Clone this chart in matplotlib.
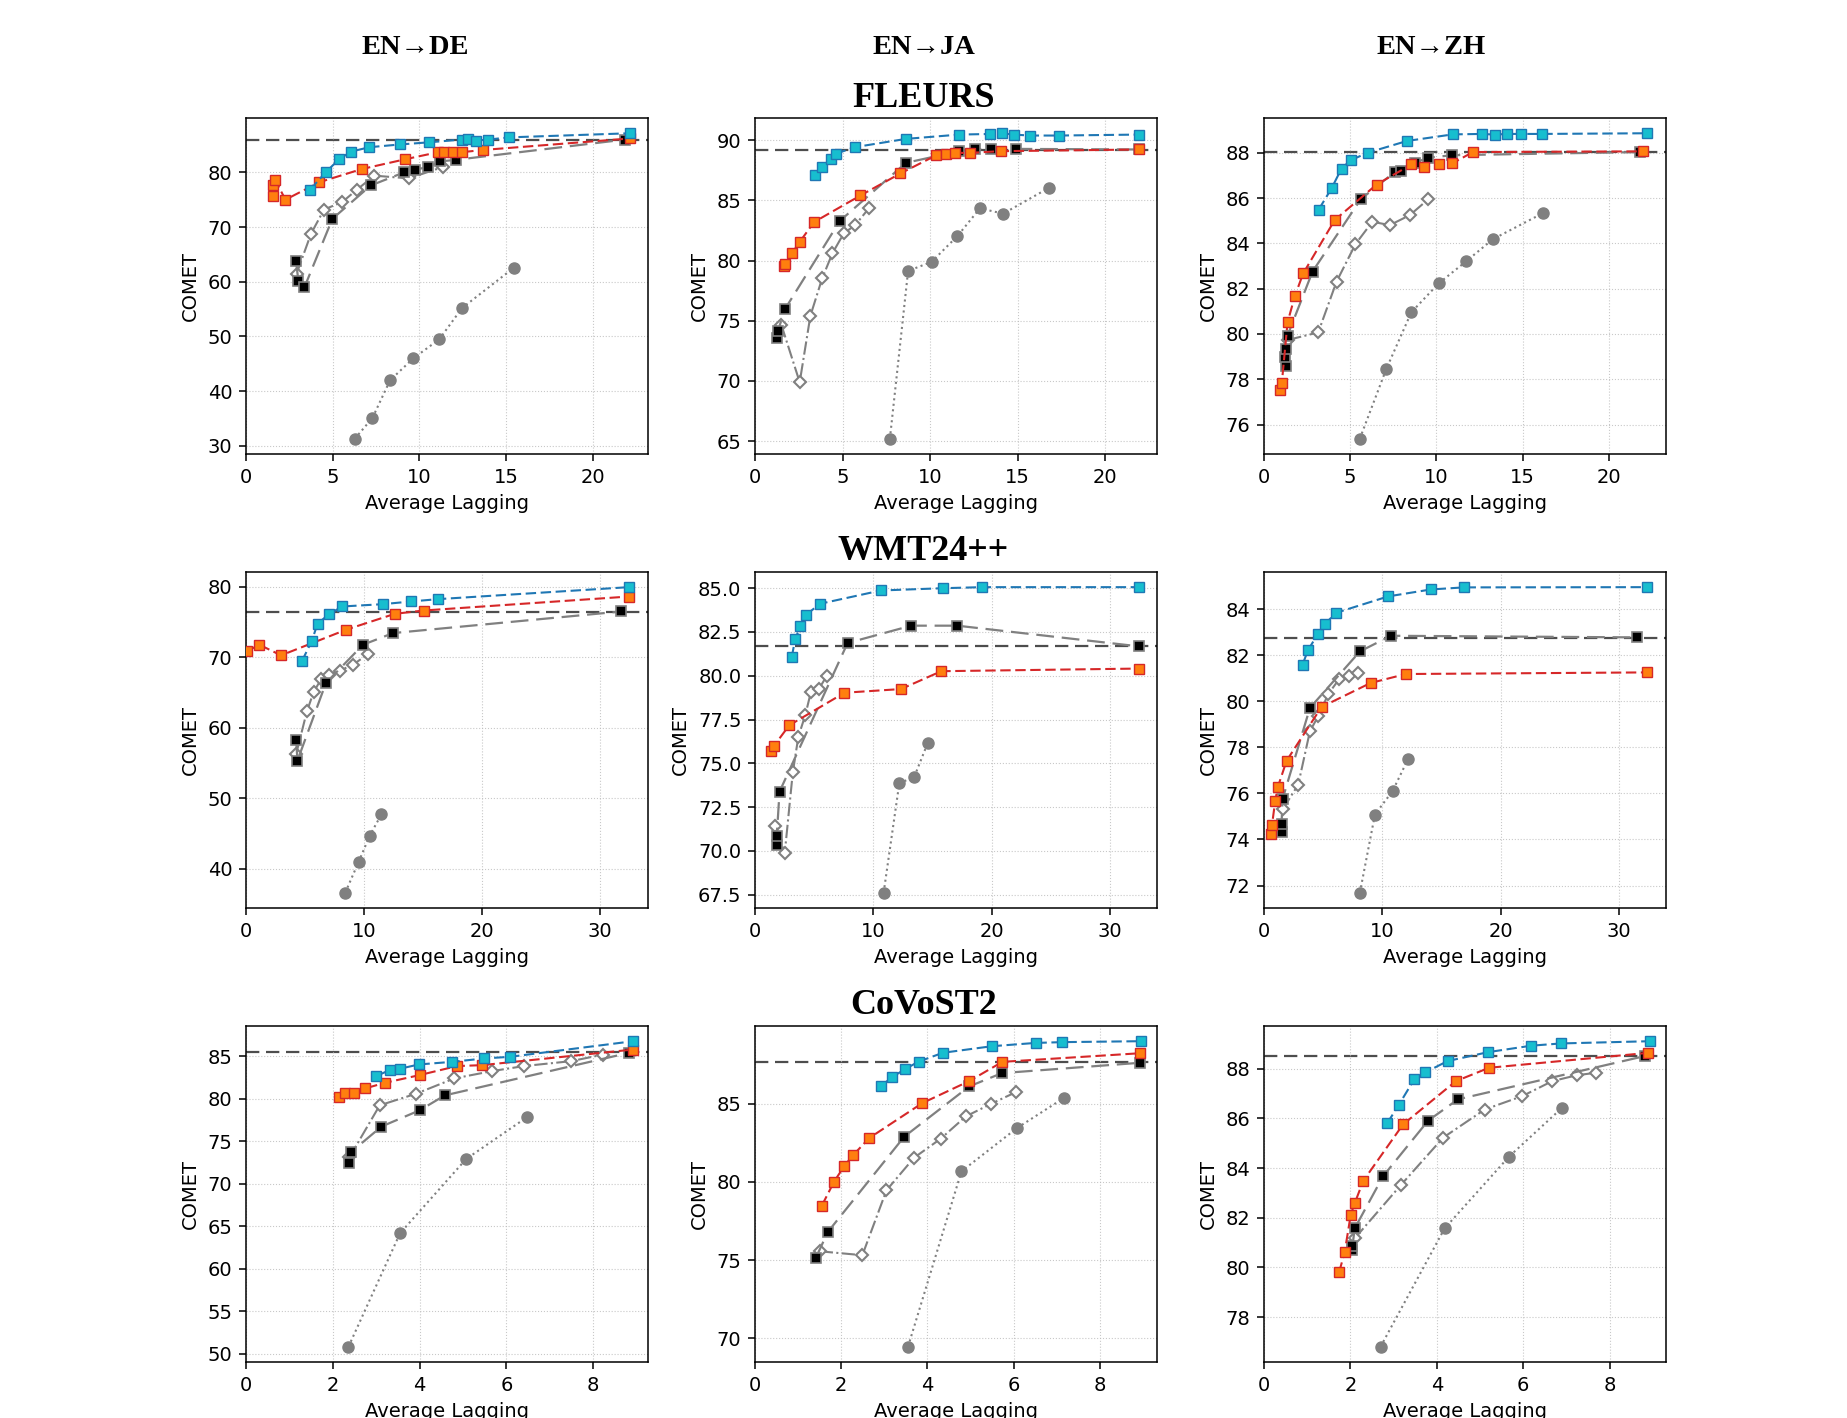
import matplotlib
matplotlib.use("Agg")
import matplotlib.pyplot as plt
from matplotlib.ticker import MultipleLocator

# column / row headings
pairs = ["EN\u2192DE", "EN\u2192JA", "EN\u2192ZH"]
datasets = ["FLEURS", "WMT24++", "CoVoST2"]

# ---------------- FLEURS ----------------
fl_de_blue_x = [3.69, 4.62, 5.37, 6.06, 7.12, 8.88, 10.58, 12.44, 12.83, 13.27, 13.98, 15.19, 22.15]
fl_de_blue_y = [76.8, 80.1, 82.4, 83.8, 84.6, 85.1, 85.5, 86.0, 86.1, 85.8, 86.0, 86.4, 87.15]
fl_de_red_x = [1.54, 1.54, 1.69, 2.27, 4.23, 6.67, 9.19, 11.10, 11.44, 11.92, 12.48, 13.69, 22.15]
fl_de_red_y = [75.6, 77.6, 78.6, 75.0, 78.2, 80.6, 82.4, 83.7, 83.8, 83.7, 83.7, 84.1, 86.2]
fl_de_black_x = [2.88, 3.02, 3.37, 4.98, 7.19, 9.12, 9.77, 10.52, 11.19, 12.12, 21.87]
fl_de_black_y = [63.8, 60.2, 59.0, 71.5, 77.6, 80.0, 80.5, 81.0, 82.0, 82.3, 86.0]
fl_de_dia_x = [2.92, 3.75, 4.50, 5.56, 6.38, 7.40, 9.38, 11.38]
fl_de_dia_y = [61.5, 68.8, 73.2, 74.6, 76.8, 79.4, 78.9, 81.0]
fl_de_circ_x = [6.27, 7.29, 8.31, 9.65, 11.15, 12.46, 15.46]
fl_de_circ_y = [31.3, 35.1, 42.0, 46.0, 49.5, 55.2, 62.6]
fl_de_ref = 85.85

fl_ja_blue_x = [3.43, 3.81, 4.36, 4.61, 5.68, 8.61, 11.66, 13.41, 14.08, 14.76, 15.70, 17.33, 21.92]
fl_ja_blue_y = [87.07, 87.79, 88.48, 88.87, 89.42, 90.11, 90.47, 90.52, 90.58, 90.47, 90.39, 90.39, 90.47]
fl_ja_red_x = [1.66, 1.71, 2.11, 2.55, 3.37, 6.02, 8.30, 10.36, 10.93, 11.41, 12.27, 14.02, 21.92]
fl_ja_red_y = [79.56, 79.70, 80.61, 81.55, 83.20, 85.41, 87.24, 88.76, 88.87, 88.95, 88.95, 89.09, 89.23]
fl_ja_black_x = [1.28, 1.31, 1.71, 4.84, 8.61, 11.66, 12.55, 13.50, 14.93, 21.92]
fl_ja_black_y = [73.54, 74.17, 75.97, 83.29, 88.12, 89.09, 89.28, 89.23, 89.28, 89.23]
fl_ja_dia_x = [1.50, 2.55, 3.16, 3.83, 4.42, 5.07, 5.71, 6.51]
fl_ja_dia_y = [74.67, 69.89, 75.41, 78.51, 80.61, 82.27, 82.93, 84.36]
fl_ja_circ_x = [7.70, 8.74, 10.08, 11.56, 12.84, 14.17, 16.76]
fl_ja_circ_y = [65.19, 79.14, 79.89, 82.04, 84.34, 83.90, 86.02]
fl_ja_ref = 89.17

fl_zh_blue_x = [3.17, 3.92, 4.50, 5.04, 6.02, 8.30, 10.95, 12.66, 13.38, 14.09, 14.90, 16.10, 22.24]
fl_zh_blue_y = [85.49, 86.43, 87.31, 87.68, 88.01, 88.53, 88.82, 88.84, 88.81, 88.84, 88.84, 88.84, 88.87]
fl_zh_red_x = [0.95, 1.04, 1.37, 1.80, 2.28, 4.11, 6.53, 8.55, 9.27, 10.15, 10.93, 12.12, 21.97]
fl_zh_red_y = [77.53, 77.84, 80.51, 81.69, 82.68, 85.04, 86.60, 87.49, 87.38, 87.53, 87.54, 88.04, 88.07]
fl_zh_black_x = [1.27, 1.25, 1.31, 1.37, 2.82, 5.62, 7.59, 7.93, 8.78, 9.52, 10.93, 21.78]
fl_zh_black_y = [78.57, 78.97, 79.34, 79.93, 82.76, 85.96, 87.16, 87.21, 87.57, 87.79, 87.90, 88.04]
fl_zh_dia_x = [1.41, 3.15, 4.21, 5.31, 6.29, 7.30, 8.46, 9.54]
fl_zh_dia_y = [79.74, 80.07, 82.31, 83.97, 84.96, 84.81, 85.25, 85.96]
fl_zh_circ_x = [5.56, 7.10, 8.55, 10.14, 11.74, 13.28, 16.18]
fl_zh_circ_y = [75.37, 78.46, 80.96, 82.24, 83.22, 84.19, 85.34]
fl_zh_ref = 88.06

# ---------------- WMT24++ ----------------
wmt_de_blue_x = [4.73, 5.58, 6.06, 7.03, 8.16, 11.61, 13.99, 16.26, 32.44]
wmt_de_blue_y = [69.39, 72.31, 74.72, 76.08, 77.17, 77.50, 77.88, 78.21, 79.91]
wmt_de_red_x = [0.06, 1.13, 2.97, 8.47, 12.61, 15.07, 32.44]
wmt_de_red_y = [70.80, 71.75, 70.24, 73.87, 76.13, 76.60, 78.58]
wmt_de_black_x = [4.25, 4.36, 6.77, 9.92, 12.46, 31.78]
wmt_de_black_y = [58.21, 55.33, 66.32, 71.75, 73.40, 76.46]
wmt_de_dia_x = [4.25, 5.16, 5.72, 6.37, 7.05, 7.93, 9.07, 10.34]
wmt_de_dia_y = [56.27, 62.31, 65.00, 66.89, 67.50, 68.07, 68.92, 70.42]
wmt_de_circ_x = [8.41, 9.55, 10.48, 11.47]
wmt_de_circ_y = [36.60, 40.99, 44.67, 47.69]
wmt_de_ref = 76.42

wmt_ja_blue_x = [3.10, 3.40, 3.84, 4.31, 5.49, 10.63, 15.88, 19.19, 32.42]
wmt_ja_blue_y = [81.06, 82.12, 82.82, 83.48, 84.11, 84.87, 85.00, 85.06, 85.06]
wmt_ja_red_x = [1.39, 1.56, 2.89, 7.56, 12.34, 15.74, 32.42]
wmt_ja_red_y = [75.71, 75.96, 77.17, 79.03, 79.24, 80.26, 80.41]
wmt_ja_black_x = [1.83, 1.83, 2.07, 7.82, 13.20, 17.09, 32.42]
wmt_ja_black_y = [70.31, 70.82, 73.38, 81.87, 82.86, 82.86, 81.68]
wmt_ja_dia_x = [1.71, 2.51, 3.19, 3.66, 4.25, 4.72, 5.37, 6.08]
wmt_ja_dia_y = [71.44, 69.87, 74.48, 76.52, 77.76, 79.07, 79.22, 80.01]
wmt_ja_circ_x = [10.87, 12.19, 13.46, 14.59]
wmt_ja_circ_y = [67.61, 73.85, 74.23, 76.15]
wmt_ja_ref = 81.68

wmt_zh_blue_x = [3.27, 3.72, 4.56, 5.18, 6.06, 10.51, 14.11, 16.90, 32.37]
wmt_zh_blue_y = [81.59, 82.21, 82.92, 83.35, 83.83, 84.55, 84.85, 84.94, 84.95]
wmt_zh_red_x = [0.62, 0.68, 0.96, 1.18, 1.92, 4.87, 9.01, 12.00, 32.34]
wmt_zh_red_y = [74.25, 74.61, 75.69, 76.28, 77.42, 79.75, 80.79, 81.18, 81.25]
wmt_zh_black_x = [1.52, 1.49, 1.58, 3.89, 8.11, 10.73, 31.55]
wmt_zh_black_y = [74.32, 74.68, 75.76, 79.71, 82.16, 82.84, 82.77]
wmt_zh_dia_x = [1.58, 2.90, 3.89, 4.59, 5.44, 6.37, 7.18, 7.97]
wmt_zh_dia_y = [75.30, 76.38, 78.70, 79.35, 80.31, 80.97, 81.08, 81.23]
wmt_zh_circ_x = [8.11, 9.38, 10.87, 12.20]
wmt_zh_circ_y = [71.69, 75.08, 76.10, 77.51]
wmt_zh_ref = 82.73

# ---------------- CoVoST2 ----------------
cv_de_blue_x = [3.00, 3.31, 3.54, 3.98, 4.75, 5.49, 6.08, 8.92]
cv_de_blue_y = [82.69, 83.40, 83.55, 84.06, 84.37, 84.77, 84.96, 86.80]
cv_de_red_x = [2.15, 2.27, 2.48, 2.75, 3.21, 4.00, 4.86, 5.44, 8.92]
cv_de_red_y = [80.23, 80.66, 80.66, 81.25, 81.91, 82.81, 83.87, 83.98, 85.82]
cv_de_black_x = [2.38, 2.41, 3.12, 4.00, 4.58, 8.82]
cv_de_black_y = [72.41, 73.70, 76.75, 78.66, 80.42, 85.43]
cv_de_dia_x = [2.38, 3.08, 3.92, 4.80, 5.67, 6.40, 7.49, 8.23]
cv_de_dia_y = [73.11, 79.25, 80.62, 82.42, 83.28, 83.87, 84.45, 85.23]
cv_de_circ_x = [2.36, 3.55, 5.07, 6.48]
cv_de_circ_y = [50.82, 64.19, 72.92, 77.88]
cv_de_ref = 85.55

cv_ja_blue_x = [2.92, 3.18, 3.49, 3.80, 4.36, 5.50, 6.51, 7.13, 8.95]
cv_ja_blue_y = [86.13, 86.70, 87.23, 87.70, 88.26, 88.68, 88.89, 88.94, 89.00]
cv_ja_red_x = [1.55, 1.83, 2.07, 2.27, 2.65, 3.88, 4.97, 5.74, 8.93]
cv_ja_red_y = [78.49, 80.00, 81.02, 81.70, 82.81, 85.04, 86.45, 87.68, 88.23]
cv_ja_black_x = [1.41, 1.69, 3.46, 4.97, 5.73, 8.93]
cv_ja_black_y = [75.15, 76.81, 82.89, 86.11, 86.96, 87.62]
cv_ja_dia_x = [1.50, 2.49, 3.05, 3.69, 4.31, 4.89, 5.48, 6.05]
cv_ja_dia_y = [75.57, 75.32, 79.47, 81.55, 82.77, 84.19, 85.00, 85.74]
cv_ja_circ_x = [3.55, 4.79, 6.08, 7.16]
cv_ja_circ_y = [69.47, 80.68, 83.45, 85.36]
cv_ja_ref = 87.66

cv_zh_blue_x = [2.85, 3.12, 3.48, 3.73, 4.25, 5.19, 6.19, 6.88, 8.94]
cv_zh_blue_y = [85.80, 86.54, 87.58, 87.85, 88.31, 88.67, 88.93, 89.02, 89.11]
cv_zh_red_x = [1.74, 1.87, 2.01, 2.10, 2.30, 3.22, 4.44, 5.21, 8.89]
cv_zh_red_y = [79.80, 80.63, 82.13, 82.58, 83.49, 85.76, 87.50, 88.04, 88.64]
cv_zh_black_x = [2.04, 2.05, 2.10, 2.76, 3.80, 4.49, 8.81]
cv_zh_black_y = [80.70, 80.86, 81.57, 83.68, 85.91, 86.77, 88.51]
cv_zh_dia_x = [2.10, 3.17, 4.15, 5.11, 5.98, 6.67, 7.24, 7.69]
cv_zh_dia_y = [81.17, 83.32, 85.23, 86.36, 86.90, 87.50, 87.74, 87.84]
cv_zh_circ_x = [2.70, 4.18, 5.67, 6.90]
cv_zh_circ_y = [76.81, 81.57, 84.46, 86.43]
cv_zh_ref = 88.52

# tick steps per panel (x step, y step)
x_steps = [[5, 5, 5], [10, 10, 10], [2, 2, 2]]
y_steps = [[10, 5, 2], [10, 2.5, 2], [5, 5, 2]]

# one row per dataset, one entry per language pair
panels = [
    [(fl_de_circ_x, fl_de_circ_y, fl_de_dia_x, fl_de_dia_y, fl_de_black_x, fl_de_black_y,
      fl_de_red_x, fl_de_red_y, fl_de_blue_x, fl_de_blue_y, fl_de_ref),
     (fl_ja_circ_x, fl_ja_circ_y, fl_ja_dia_x, fl_ja_dia_y, fl_ja_black_x, fl_ja_black_y,
      fl_ja_red_x, fl_ja_red_y, fl_ja_blue_x, fl_ja_blue_y, fl_ja_ref),
     (fl_zh_circ_x, fl_zh_circ_y, fl_zh_dia_x, fl_zh_dia_y, fl_zh_black_x, fl_zh_black_y,
      fl_zh_red_x, fl_zh_red_y, fl_zh_blue_x, fl_zh_blue_y, fl_zh_ref)],
    [(wmt_de_circ_x, wmt_de_circ_y, wmt_de_dia_x, wmt_de_dia_y, wmt_de_black_x, wmt_de_black_y,
      wmt_de_red_x, wmt_de_red_y, wmt_de_blue_x, wmt_de_blue_y, wmt_de_ref),
     (wmt_ja_circ_x, wmt_ja_circ_y, wmt_ja_dia_x, wmt_ja_dia_y, wmt_ja_black_x, wmt_ja_black_y,
      wmt_ja_red_x, wmt_ja_red_y, wmt_ja_blue_x, wmt_ja_blue_y, wmt_ja_ref),
     (wmt_zh_circ_x, wmt_zh_circ_y, wmt_zh_dia_x, wmt_zh_dia_y, wmt_zh_black_x, wmt_zh_black_y,
      wmt_zh_red_x, wmt_zh_red_y, wmt_zh_blue_x, wmt_zh_blue_y, wmt_zh_ref)],
    [(cv_de_circ_x, cv_de_circ_y, cv_de_dia_x, cv_de_dia_y, cv_de_black_x, cv_de_black_y,
      cv_de_red_x, cv_de_red_y, cv_de_blue_x, cv_de_blue_y, cv_de_ref),
     (cv_ja_circ_x, cv_ja_circ_y, cv_ja_dia_x, cv_ja_dia_y, cv_ja_black_x, cv_ja_black_y,
      cv_ja_red_x, cv_ja_red_y, cv_ja_blue_x, cv_ja_blue_y, cv_ja_ref),
     (cv_zh_circ_x, cv_zh_circ_y, cv_zh_dia_x, cv_zh_dia_y, cv_zh_black_x, cv_zh_black_y,
      cv_zh_red_x, cv_zh_red_y, cv_zh_blue_x, cv_zh_blue_y, cv_zh_ref)],
]

# the original looks like default style scaled up ~1.4x
plt.rcParams['font.size'] = 14
plt.rcParams['xtick.major.size'] = 4.9
plt.rcParams['ytick.major.size'] = 4.9
plt.rcParams['xtick.major.pad'] = 4.9
plt.rcParams['ytick.major.pad'] = 4.9
plt.rcParams['xtick.major.width'] = 1.1
plt.rcParams['ytick.major.width'] = 1.1
plt.rcParams['axes.linewidth'] = 1.1
plt.rcParams['axes.labelpad'] = 5.6
serif = ['Liberation Serif', 'DejaVu Serif']

fig = plt.figure(figsize=(18.47, 14.18), dpi=100)

lefts = [0.1332, 0.4088, 0.6843]
bottoms = [0.6798, 0.3597, 0.0395]
w, h = 0.2176, 0.237

dash = (0, (5, 2.2))
longdash = (0, (8, 3.5))

for r in range(3):
    for c in range(3):
        ax = fig.add_axes([lefts[c], bottoms[r], w, h])
        cx, cy, dx, dy, kx, ky, rx, ry, bx, by, ref = panels[r][c]
        ax.axhline(ref, color='#4d4d4d', lw=1.6, ls=(0, (6, 3)), zorder=1)
        ax.plot(cx, cy, ls=':', color='#808080', lw=1.5, marker='o', ms=8, zorder=2)
        ax.plot(dx, dy, ls='-.', color='#808080', lw=1.5, marker='D', ms=6,
                mfc='white', mec='#808080', mew=1.5, zorder=3)
        ax.plot(kx, ky, ls=longdash, color='#808080', lw=1.6, marker='s', ms=6.5,
                mfc='black', mec='#808080', mew=1.2, zorder=4)
        ax.plot(rx, ry, ls=dash, color='#d62728', lw=1.5, marker='s', ms=6.5,
                mfc='#ff7f0e', mec='#d62728', mew=1.0, zorder=5)
        ax.plot(bx, by, ls=dash, color='#1f77b4', lw=1.5, marker='s', ms=6.5,
                mfc='#17becf', mec='#1f77b4', mew=1.0, zorder=6)
        ax.set_xlim(left=0)
        ax.xaxis.set_major_locator(MultipleLocator(x_steps[r][c]))
        ax.yaxis.set_major_locator(MultipleLocator(y_steps[r][c]))
        ax.grid(True, ls=':', lw=0.8, color='#bbbbbb', alpha=0.8)
        ax.set_xlabel('Average Lagging')
        ax.set_ylabel('COMET')

for t, xpos in zip(pairs, [0.225, 0.5, 0.775]):
    fig.text(xpos, 1 - 54 / 1418, t, ha='center', va='baseline', fontsize=20.5,
             fontweight='bold', family=serif)

for t, ypix in zip(datasets, [107, 560, 1014]):
    fig.text(0.5, 1 - ypix / 1418, t, ha='center', va='baseline', fontsize=26,
             fontweight='bold', family=serif)

fig.savefig('out.png', dpi=100)
